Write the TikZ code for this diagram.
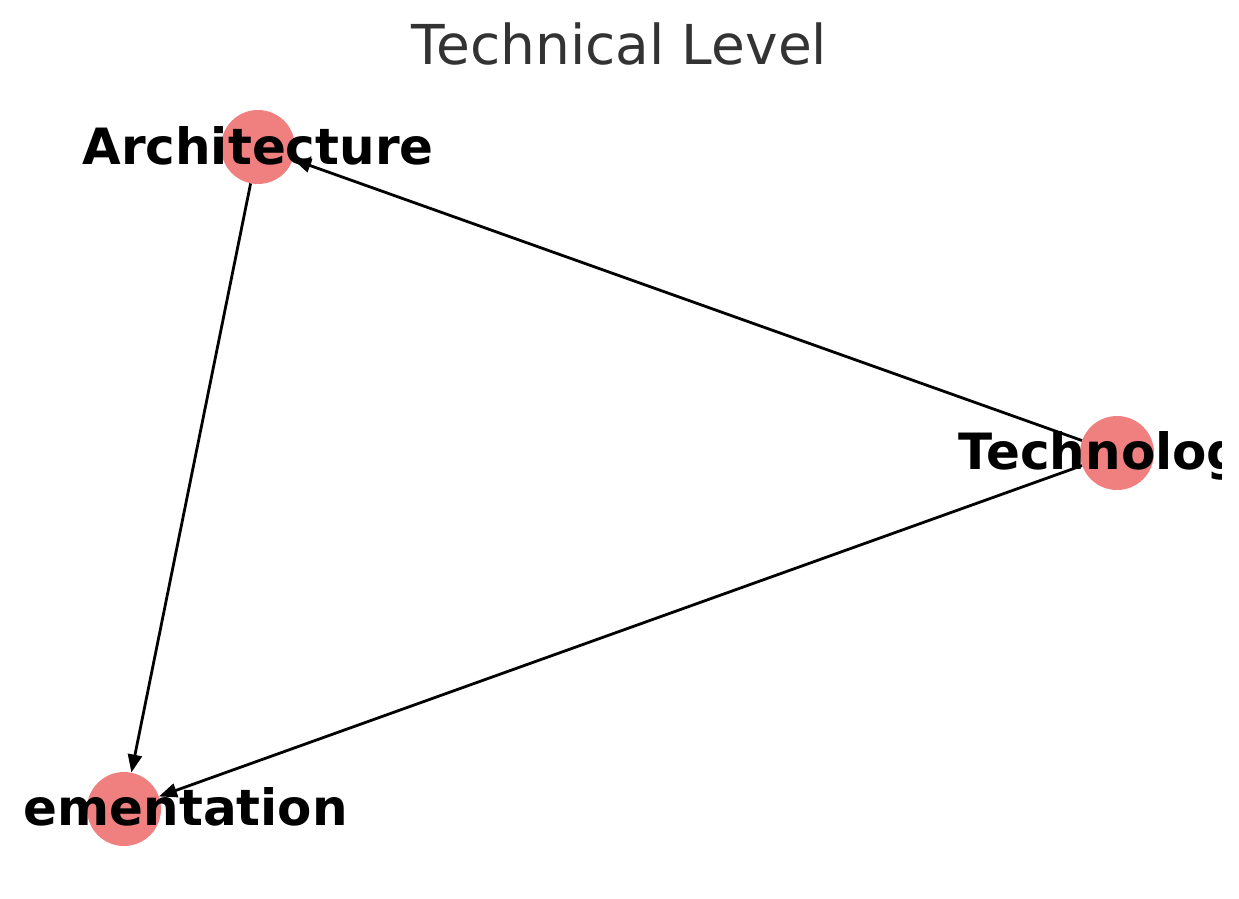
\documentclass[tikz,border=0pt]{standalone}
\usepackage{fontspec}
\setmainfont{DejaVu Sans}
\usetikzlibrary{arrows.meta}
\definecolor{nodered}{HTML}{F08080}
\definecolor{titlegray}{HTML}{333333}

\begin{document}
\begin{tikzpicture}[
    x=1pt, y=-1pt,
    dot/.style={circle, fill=nodered, minimum size=74pt, inner sep=0pt},
    lbl/.style={anchor=base, inner sep=0pt, font=\fontsize{50}{60}\selectfont\bfseries},
    link/.style={-{Triangle[length=18pt, width=14pt]}, line width=2.8pt}
]
\useasboundingbox (0,0) rectangle (1239,898);

% Titre
\node[anchor=base, inner sep=0pt, text=titlegray, font=\fontsize{55}{66}\selectfont] (title) at (619.5,64) {Technical Level};

% Noeuds
\node[dot] (arch) at (258,147) {};
\node[dot] (tech) at (1117,453) {};
\node[dot] (impl) at (124,809) {};

% Connexions
\draw[link] (tech) -- (arch);
\draw[link] (arch) -- (impl);
\draw[link] (tech) -- (impl);

% Etiquettes (coupees par le cadre)
\begin{scope}
\clip (24,0) rectangle (1221,898);
\node[lbl] (archlbl) at (258,164) {Architecture};
\node[lbl] (techlbl) at (1117,469) {Technology};
\node[lbl] (impllbl) at (124,825) {Implementation};
\end{scope}

\end{tikzpicture}
\end{document}
